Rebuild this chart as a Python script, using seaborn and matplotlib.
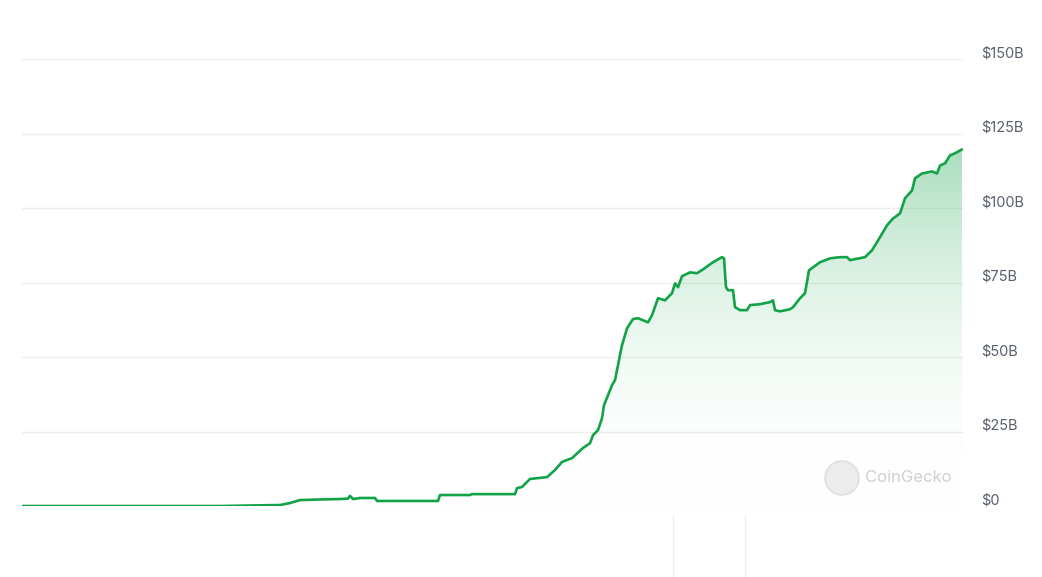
import numpy as np
import pandas as pd
import matplotlib
matplotlib.use("Agg")
import matplotlib.pyplot as plt
import matplotlib.transforms as mtransforms
from matplotlib.patches import Circle
from matplotlib.lines import Line2D
from matplotlib.colors import LinearSegmentedColormap
import seaborn as sns

# time index (chart has no date labels, so a plain step index)
t = [0, 198, 228, 258, 268, 278, 298, 318, 326, 328, 331, 338, 353, 355, 416, 418,
     448, 450, 493, 495, 500, 508, 525, 533, 540, 550, 561, 568, 571, 576, 580, 582,
     586, 590, 593, 596, 598, 600, 603, 605, 611, 616, 626, 630, 636, 643, 650, 653,
     656, 660, 668, 675, 681, 691, 700, 702, 704, 706, 711, 713, 718, 725, 728, 738,
     748, 751, 753, 758, 768, 771, 778, 783, 787, 798, 808, 818, 825, 828, 843, 850,
     858, 865, 871, 878, 883, 890, 893, 900, 910, 915, 918, 923, 928, 933, 940]

# market cap in billions USD
mcap = [0, 0, 0.17, 0.34, 1.0, 2.0, 2.2, 2.35, 2.5, 3.4, 2.35, 2.7, 2.7, 1.7, 1.7, 3.7,
        3.7, 4.0, 4.0, 6.0, 6.4, 9.1, 9.7, 12.1, 14.8, 16.1, 19.5, 21.1, 23.8, 25.5, 29.5, 33.9,
        37.2, 40.6, 42.3, 47.3, 50.7, 54.0, 57.4, 59.7, 62.8, 63.1, 61.7, 64.1, 69.8, 69.1, 71.5, 74.8,
        73.5, 77.2, 78.5, 78.2, 79.5, 81.9, 83.6, 83.2, 73.5, 72.5, 72.5, 66.8, 65.8, 65.8, 67.5, 67.8,
        68.5, 69.1, 65.8, 65.4, 66.1, 66.8, 69.8, 71.5, 79.2, 81.9, 83.2, 83.6, 83.6, 82.6, 83.6, 85.9,
        90.3, 94.3, 96.6, 98.3, 103.4, 106.0, 110.1, 111.7, 112.4, 111.7, 114.4, 115.1, 117.8, 118.5, 119.8]

y_ticks = [0, 25, 50, 75, 100, 125, 150]
y_labels = ["$0", "$25B", "$50B", "$75B", "$100B", "$125B", "$150B"]

LINE = "#12a247"

sns.set_theme(style="white")
plt.rcParams["font.family"] = ["Inter", "DejaVu Sans"]

df = pd.DataFrame({"t": t, "mcap": mcap})

fig = plt.figure(figsize=(10.42, 5.77), dpi=100)
ax = fig.add_axes([0.0211, 0.1230, 0.9031, 0.7739])

# gradient fill under the line
cmap = LinearSegmentedColormap.from_list(
    "fade", [(1, 1, 1, 0), (0.07, 0.64, 0.28, 0.36)])
grad = np.linspace(0, 1, 256).reshape(-1, 1)
top = max(mcap)
img = ax.imshow(grad, cmap=cmap, aspect="auto", origin="lower",
                extent=[t[0], t[-1], 0, top], zorder=1)
poly = ax.fill_between(df["t"], df["mcap"], 0, color="none", lw=0)
clip = poly.get_paths()[0]
img.set_clip_path(clip, transform=ax.transData)

sns.lineplot(data=df, x="t", y="mcap", ax=ax, color=LINE, lw=1.9, zorder=3)

ax.set_xlim(t[0], t[-1] + 1)
ax.set_ylim(0, 150)
ax.set_yticks(y_ticks)
ax.set_yticklabels(y_labels)
ax.yaxis.tick_right()
ax.tick_params(axis="y", length=0, pad=13, labelsize=10.5, labelcolor="#58606b")
ax.set_xticks([])
ax.set_xlabel("")
ax.set_ylabel("")
for lbl in ax.get_yticklabels():
    lbl.set_horizontalalignment("left")
    lbl.set_transform(lbl.get_transform() +
                      mtransforms.ScaledTranslation(0, 0.075, fig.dpi_scale_trans))
ax.grid(axis="y", color="#eeeeee", lw=1)
for s in ax.spines.values():
    s.set_visible(False)

# watermark (logo circle sized in inches so it stays round)
logo = Circle((0, 0), 0.17, facecolor="#e9e9e9", edgecolor="#dcdcdc", lw=1.2, alpha=0.85,
              transform=fig.dpi_scale_trans +
              mtransforms.ScaledTranslation(842 / 1042, 1 - 478 / 577, fig.transFigure))
fig.patches.append(logo)
fig.text(865 / 1042, 1 - 478 / 577, "CoinGecko", fontsize=12, color="#cfcfcf",
         va="center", ha="left", zorder=5)

# faint separators below the plot
for xp in [673, 745]:
    fig.lines.append(Line2D([xp / 1042, xp / 1042], [0, 1 - 515 / 577],
                            transform=fig.transFigure, color="#eeeeee", lw=1))

fig.savefig("out.png", dpi=100)
